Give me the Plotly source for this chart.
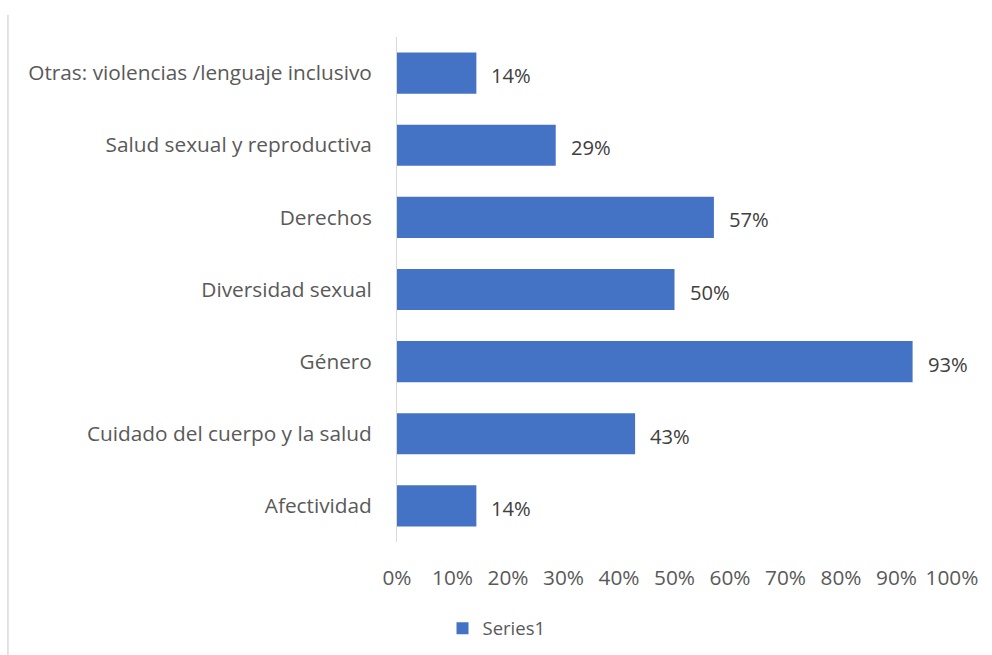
import plotly.graph_objects as go

categories = ["Afectividad", "Cuidado del cuerpo y la salud", "Género", "Diversidad sexual",
              "Derechos", "Salud sexual y reproductiva", "Otras: violencias /lenguaje inclusivo"]
values = [0.143, 0.429, 0.929, 0.5, 0.571, 0.286, 0.143]
labels = ["14%", "43%", "93%", "50%", "57%", "29%", "14%"]
tick_vals = [0, 0.1, 0.2, 0.3, 0.4, 0.5, 0.6, 0.7, 0.8, 0.9, 1.0]
tick_text = ["0%", "10%", "20%", "30%", "40%", "50%", "60%", "70%", "80%", "90%", "100%"]

FONT = "Open Sans"
SIZE = 20.8
fig = go.Figure()
fig.add_trace(go.Bar(
    y=categories, x=values, orientation="h", name="Series1",
    marker=dict(color="#4472C4", line=dict(width=0)),
))

for c, v, t in zip(categories, values, labels):
    fig.add_annotation(x=v, y=c, text=t, showarrow=False, xanchor="left", xshift=13, yshift=-2,
                       font=dict(family=FONT, size=20.2, color="#404040"))

fig.update_layout(
    width=992, height=655,
    margin=dict(l=397, r=40, t=37, b=113, autoexpand=False),
    paper_bgcolor="white", plot_bgcolor="white",
    bargap=0.43,
    showlegend=True,
    legend=dict(orientation="h", x=0.082, xanchor="left", y=-0.134, yanchor="top",
                font=dict(family=FONT, size=18.5, color="#595959")),
    font=dict(family=FONT, size=SIZE, color="#595959"),
)
fig.update_xaxes(range=[0, 1], tickvals=tick_vals, ticktext=tick_text, showgrid=False,
                 zeroline=False, showline=False, ticks="", ticklabelstandoff=21,
                 tickfont=dict(family=FONT, size=SIZE, color="#595959"))
fig.update_yaxes(showgrid=False, zeroline=False, showline=True, linecolor="#D9D9D9",
                 linewidth=1, ticks="", ticklabelstandoff=20,
                 tickfont=dict(family=FONT, size=SIZE, color="#595959"))

# outer chart border (left edge)
fig.add_shape(type="line", xref="paper", yref="paper", x0=-0.701, x1=-0.701, y0=1.0436, y1=-0.3,
              line=dict(color="#D9D9D9", width=1.5))

fig.write_html("out.html")
